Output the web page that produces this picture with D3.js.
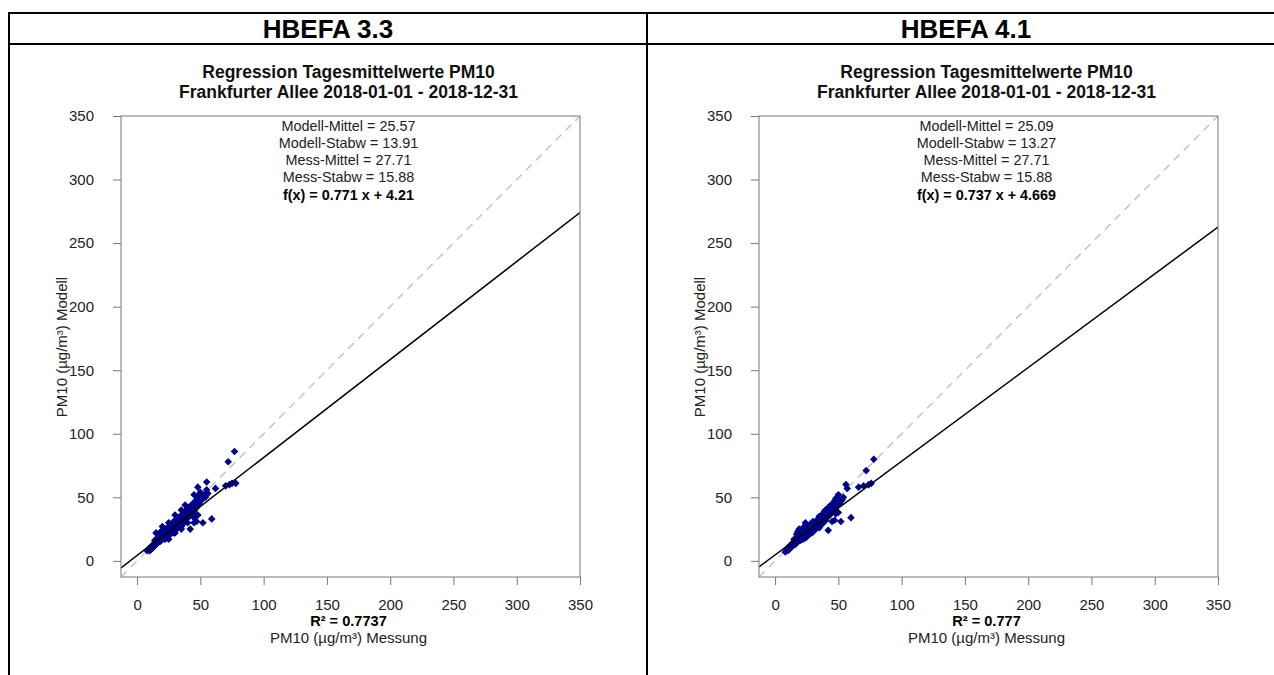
<!DOCTYPE html>
<html>
<head>
<meta charset="utf-8">
<script src="https://cdn.jsdelivr.net/npm/d3@7"></script>
<style>
  body { margin: 0; background: #fff; }
  svg { display: block; font-family: "Liberation Sans", Arial, sans-serif; }
</style>
</head>
<body>
<svg id="chart" width="1274" height="675"></svg>
<script>
// panel headers and annotations
const panelNames = ["HBEFA 3.3", "HBEFA 4.1"];
const titleLines = ["Regression Tagesmittelwerte PM10", "Frankfurter Allee 2018-01-01 - 2018-12-31"];
const statLines = [
  ["Modell-Mittel = 25.57", "Modell-Stabw = 13.91", "Mess-Mittel = 27.71", "Mess-Stabw = 15.88"],
  ["Modell-Mittel = 25.09", "Modell-Stabw = 13.27", "Mess-Mittel = 27.71", "Mess-Stabw = 15.88"]
];
const slopes = [0.771, 0.737];
const intercepts = [4.21, 4.669];
const fitLabels = ["f(x) = 0.771 x + 4.21", "f(x) = 0.737 x + 4.669"];
const r2Labels = ["R² = 0.7737", "R² = 0.777"];
const ticks = [0, 50, 100, 150, 200, 250, 300, 350];
const xLabel = "PM10 (µg/m³) Messung";
const yLabel = "PM10 (µg/m³) Modell";

// daily means [Messung, Modell]
const points33 = [[8,8],[9,9],[10,8],[10,10],[11,9],[11,11],[12,10],[12,12],[13,11],[13,13],[14,12],[14,14],[14,16],
  [15,13],[15,15],[15,17],[15,22],[16,14],[16,16],[16,18],[17,15],[17,17],[17,19],[17,21],[18,15],[18,17],[18,19],[18,22],
  [19,16],[19,18],[19,20],[19,23],[20,17],[20,19],[20,21],[20,24],[20,27],[21,18],[21,20],[21,22],[22,17],[22,19],[22,21],
  [22,23],[23,18],[23,20],[23,22],[23,25],[24,19],[24,21],[24,23],[24,26],[25,17],[25,20],[25,22],[25,24],[25,30],[26,21],
  [26,23],[26,25],[26,28],[27,22],[27,24],[27,26],[27,29],[28,23],[28,25],[28,27],[28,30],[29,22],[29,26],[29,28],[30,22],
  [30,24],[30,27],[30,29],[30,32],[30,36],[31,25],[31,28],[31,30],[32,26],[32,29],[32,31],[33,27],[33,30],[33,33],[34,28],
  [34,31],[34,34],[35,25],[35,27],[35,30],[35,33],[35,36],[35,40],[36,29],[36,32],[36,35],[37,30],[37,34],[37,37],[38,31],
  [38,35],[38,38],[38,44],[39,33],[39,36],[39,40],[40,30],[40,34],[40,37],[40,41],[41,35],[41,39],[42,25],[42,36],[42,40],
  [42,43],[43,38],[43,42],[44,37],[44,40],[44,45],[45,30],[45,34],[45,39],[45,43],[45,52],[46,41],[46,46],[47,31],[47,42],
  [47,48],[48,36],[48,44],[48,50],[48,58],[49,45],[49,52],[50,47],[50,54],[51,48],[51,51],[52,30],[52,50],[53,52],[54,50],
  [55,56],[55,62],[56,53],[59,33],[62,57],[70,59],[72,78],[73,60],[75,61],[77,86],[78,61]];
const points41 = [[8,7],[9,9],[10,8],[10,10],[11,9],[11,11],[12,10],[12,12],[13,11],[13,13],[14,12],[14,14],[15,13],[15,15],
  [15,17],[16,13],[16,15],[16,17],[17,14],[17,16],[17,18],[17,21],[18,15],[18,17],[18,19],[18,23],[19,16],[19,18],[19,20],
  [19,25],[20,16],[20,18],[20,20],[20,22],[21,17],[21,19],[21,21],[21,24],[22,17],[22,19],[22,21],[22,23],[23,18],[23,20],
  [23,22],[23,27],[24,18],[24,20],[24,22],[24,25],[24,30],[25,19],[25,21],[25,23],[25,26],[26,20],[26,22],[26,24],[26,27],
  [27,21],[27,23],[27,25],[27,28],[28,22],[28,24],[28,26],[28,29],[29,22],[29,25],[29,27],[30,23],[30,26],[30,28],[30,31],
  [31,24],[31,27],[31,29],[32,25],[32,28],[32,30],[33,26],[33,29],[33,32],[34,27],[34,30],[34,33],[35,26],[35,29],[35,32],
  [35,35],[36,28],[36,31],[36,34],[37,29],[37,32],[37,36],[38,30],[38,33],[38,37],[39,31],[39,35],[39,39],[40,32],[40,36],
  [40,40],[41,34],[41,38],[42,24],[42,35],[42,39],[42,42],[43,36],[43,40],[44,37],[44,41],[44,44],[45,31],[45,38],[45,42],
  [46,39],[46,45],[47,32],[47,40],[47,47],[48,37],[48,42],[48,49],[49,43],[49,50],[50,38],[50,44],[50,52],[51,45],[52,31],
  [52,47],[53,48],[54,50],[56,60],[57,57],[60,34],[66,58],[70,59],[72,71],[74,60],[76,61],[78,80]];
const pointSets = [points33, points41];

const svg = d3.select("#chart");
const domain = [-12.7, 350];
const axisColor = "#777";
const textColor = "#222";

// table frame
svg.append("line").attr("x1", 8).attr("x2", 1274).attr("y1", 13).attr("y2", 13).attr("stroke", "#000").attr("stroke-width", 2);
svg.append("line").attr("x1", 8).attr("x2", 1274).attr("y1", 44).attr("y2", 44).attr("stroke", "#000").attr("stroke-width", 2);
[9, 647].forEach(x => {
  svg.append("line").attr("x1", x).attr("x2", x).attr("y1", 12).attr("y2", 675).attr("stroke", "#000").attr("stroke-width", 2);
});

panelNames.forEach((name, i) => {
  const ox = i * 638;
  svg.append("text").attr("x", 328 + ox).attr("y", 38).attr("text-anchor", "middle")
    .attr("font-size", 26).attr("font-weight", "bold").text(name);

  const g = svg.append("g").attr("transform", `translate(${ox},0)`);
  const x = d3.scaleLinear().domain(domain).range([121, 580]);
  const y = d3.scaleLinear().domain(domain).range([577, 116]);
  const cx = (121 + 580) / 2;

  titleLines.forEach((t, k) => {
    g.append("text").attr("x", cx - 2).attr("y", 78 + k * 20).attr("text-anchor", "middle")
      .attr("font-size", 17.5).attr("font-weight", "bold").attr("fill", "#111").text(t);
  });

  const clipId = "clip" + i;
  g.append("clipPath").attr("id", clipId).append("rect")
    .attr("x", 121).attr("y", 116).attr("width", 459).attr("height", 461);

  const plot = g.append("g").attr("clip-path", `url(#${clipId})`);
  // 1:1 line
  plot.append("line")
    .attr("x1", x(domain[0])).attr("y1", y(domain[0])).attr("x2", x(350)).attr("y2", y(350))
    .attr("stroke", "#c4c4c4").attr("stroke-width", 1.5).attr("stroke-dasharray", "8,6");

  // scatter
  const r = 3.8;
  plot.selectAll("path.pt").data(pointSets[i]).join("path")
    .attr("class", "pt")
    .attr("d", `M0,${-r}L${r},0L0,${r}L${-r},0Z`)
    .attr("transform", d => `translate(${x(d[0])},${y(d[1])})`)
    .attr("fill", "#00008B");

  // regression line
  plot.append("line")
    .attr("x1", x(domain[0])).attr("y1", y(slopes[i] * domain[0] + intercepts[i]))
    .attr("x2", x(350)).attr("y2", y(slopes[i] * 350 + intercepts[i]))
    .attr("stroke", "#000").attr("stroke-width", 1.5);

  // box
  g.append("rect").attr("x", 121).attr("y", 116).attr("width", 459).attr("height", 461)
    .attr("fill", "none").attr("stroke", axisColor).attr("stroke-width", 1);

  // axes
  const xAxis = g.append("g").attr("transform", "translate(0,577)")
    .call(d3.axisBottom(x).tickValues(ticks).tickSize(8).tickPadding(14).tickSizeOuter(0));
  const yAxis = g.append("g").attr("transform", "translate(121,0)")
    .call(d3.axisLeft(y).tickValues(ticks).tickSize(8).tickPadding(19).tickSizeOuter(0));
  [xAxis, yAxis].forEach(a => {
    a.select(".domain").remove();
    a.selectAll(".tick line").attr("stroke", axisColor);
    a.selectAll(".tick text").attr("font-size", 15).attr("fill", textColor)
      .attr("font-family", "'Liberation Sans', Arial, sans-serif");
  });

  // stats
  statLines[i].forEach((t, k) => {
    g.append("text").attr("x", cx - 2).attr("y", 131 + k * 17).attr("text-anchor", "middle")
      .attr("font-size", 14.4).attr("fill", textColor).text(t);
  });
  g.append("text").attr("x", cx - 2).attr("y", 200).attr("text-anchor", "middle")
    .attr("font-size", 14.4).attr("font-weight", "bold").attr("fill", "#000").text(fitLabels[i]);

  g.append("text").attr("x", cx - 2).attr("y", 626).attr("text-anchor", "middle")
    .attr("font-size", 14.6).attr("font-weight", "bold").attr("fill", "#000").text(r2Labels[i]);
  g.append("text").attr("x", cx - 2).attr("y", 643).attr("text-anchor", "middle")
    .attr("font-size", 15).attr("fill", textColor).text(xLabel);
  g.append("text").attr("transform", `translate(67,347) rotate(-90)`).attr("text-anchor", "middle")
    .attr("font-size", 15).attr("fill", textColor).text(yLabel);
});
</script>
</body>
</html>
